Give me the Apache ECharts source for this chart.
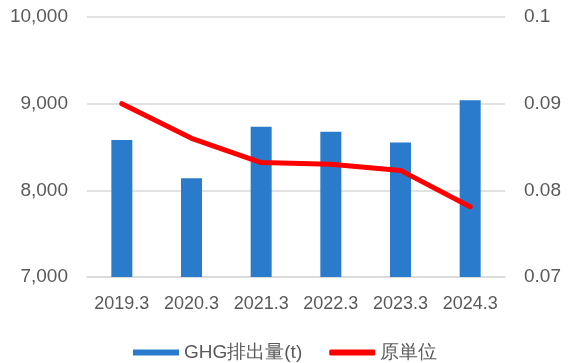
<!DOCTYPE html>
<html><head><meta charset="utf-8">
<script src="https://cdn.jsdelivr.net/npm/echarts@6/dist/echarts.min.js"></script>
<style>html,body{margin:0;padding:0;background:#fff}#c{width:581px;height:363px}</style>
</head><body><div id="c"></div>
<script>
var categories = ['2019.3','2020.3','2021.3','2022.3','2023.3','2024.3'];
var ghg = [8580, 8140, 8735, 8675, 8552, 9040];
var intensity = [0.0900, 0.0860, 0.0832, 0.0830, 0.0823, 0.0781];
var leftTicks = {min: 7000, max: 10000, interval: 1000};
var rightTicks = {min: 0.07, max: 0.1, interval: 0.01};

var txt = '#595959';
var font = '"Liberation Sans", Arial, sans-serif';
var chart = echarts.init(document.getElementById('c'), null, {renderer: 'canvas'});
chart.setOption({
  animation: false,
  grid: {left: 87, right: 76, top: 17, bottom: 86},
  legend: {
    left: 128, top: 338, itemWidth: 46, itemHeight: 6, itemGap: 27,
    textStyle: {color: txt, fontSize: 19, fontFamily: font},
    data: [{name: 'GHG排出量(t)', icon: 'rect'},
           {name: '原単位', icon: 'roundRect', itemStyle: {color: '#FF0000'}}]
  },
  xAxis: {
    type: 'category', data: categories,
    axisLine: {show: true, lineStyle: {color: '#d9d9d9', width: 1.5}},
    axisTick: {show: false},
    axisLabel: {color: txt, fontSize: 18, fontFamily: font, margin: 18, interval: 0}
  },
  yAxis: [{
    type: 'value', min: leftTicks.min, max: leftTicks.max, interval: leftTicks.interval,
    axisLine: {show: false}, axisTick: {show: false},
    splitLine: {lineStyle: {color: '#d9d9d9', width: 1.5}},
    axisLabel: {color: txt, fontSize: 19, fontFamily: font, margin: 19,
      formatter: function (v) { return v.toLocaleString('en-US'); }}
  }, {
    type: 'value', min: rightTicks.min, max: rightTicks.max, interval: rightTicks.interval,
    axisLine: {show: false}, axisTick: {show: false}, splitLine: {show: false},
    axisLabel: {color: txt, fontSize: 19, fontFamily: font, margin: 19,
      formatter: function (v) { return String(parseFloat(v.toFixed(4))); }}
  }],
  series: [{
    name: 'GHG排出量(t)', type: 'bar', data: ghg, barWidth: 21,
    itemStyle: {color: '#2A7BCB'}
  }, {
    name: '原単位', type: 'line', yAxisIndex: 1, data: intensity,
    symbol: 'none', lineStyle: {color: '#FF0000', width: 5, cap: 'round', join: 'round'},
    itemStyle: {color: '#FF0000'}
  }]
});
</script></body></html>
